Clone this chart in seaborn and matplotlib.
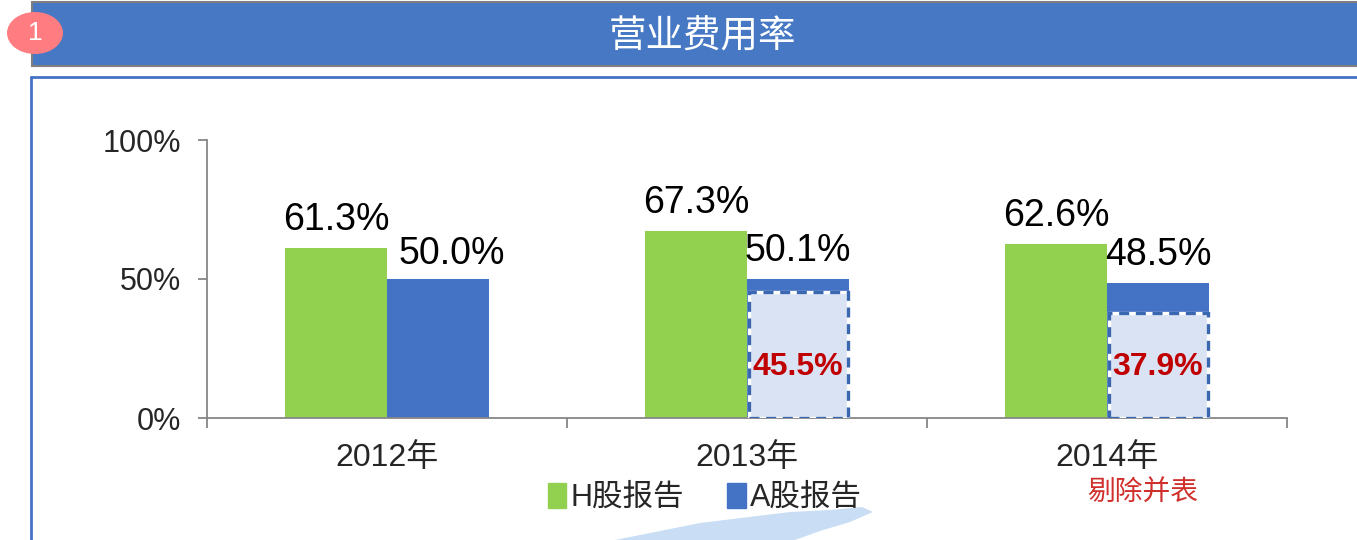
import matplotlib
matplotlib.use("Agg")
from matplotlib import pyplot as plt
from matplotlib.patches import Patch, Rectangle, Ellipse, Polygon
import seaborn as sns
import pandas as pd

# data
years = ["2012年", "2013年", "2014年"]
h_share = [61.3, 67.3, 62.6]      # H股报告
a_share = [50.0, 50.1, 48.5]      # A股报告
excl_years = ["2013年", "2014年"]
excl_vals = [45.5, 37.9]          # 剔除并表
series = ["H股报告", "A股报告"]

GREEN = "#92D050"
BLUE = "#4472C4"
GREY = "#868686"
RED = "#C00000"

df = pd.DataFrame({
    "年份": years * 2,
    "费用率": h_share + a_share,
    "口径": [series[0]] * 3 + [series[1]] * 3,
})

sns.set_theme(style="white")
plt.rcParams["font.family"] = ["Liberation Sans", "Noto Sans CJK SC", "DejaVu Sans"]

fig = plt.figure(figsize=(13.57, 5.4), dpi=100)
fig.patch.set_facecolor("white")

# header band + number badge
fig.add_artist(Rectangle((32 / 1357, 1 - 66 / 540), 1.0, 64 / 540, transform=fig.transFigure,
                         facecolor="#4678C4", edgecolor="#7F7F7F", lw=1.5, zorder=1))
fig.text(702 / 1357, 1 - 37 / 540, "营业费用率", color="white", fontsize=27,
         ha="center", va="center", zorder=3)
fig.add_artist(Ellipse((35 / 100, (540 - 33) / 100), 0.56, 0.42, transform=fig.dpi_scale_trans,
                       facecolor="#FF7C80", edgecolor="none", zorder=2))
fig.text(35 / 1357, 1 - 33 / 540, "1", color="white", fontsize=19, ha="center", va="center", zorder=3)

# content frame
fig.add_artist(plt.Line2D([31 / 1357, 31 / 1357], [0, 1 - 77 / 540], transform=fig.transFigure,
                          color=BLUE, lw=2))
fig.add_artist(plt.Line2D([31 / 1357, 1], [1 - 77 / 540, 1 - 77 / 540], transform=fig.transFigure,
                          color=BLUE, lw=2))
# faint decoration at the bottom
deco = [(615, 540), (700, 523), (790, 512), (830, 510), (862, 507), (873, 512),
        (850, 522), (820, 531), (795, 540)]
fig.add_artist(Polygon([(x / 1357, 1 - y / 540) for x, y in deco], closed=True,
                       transform=fig.transFigure, facecolor="#C9DEF4", edgecolor="none", zorder=0))

ax = fig.add_axes([207 / 1357, 122 / 540, 1080 / 1357, 278 / 540])
ax.set_facecolor("none")

sns.barplot(data=df, x="年份", y="费用率", hue="口径", order=years, hue_order=series,
            palette=[GREEN, BLUE], width=0.567, saturation=1, errorbar=None,
            linewidth=0, legend=False, ax=ax)

labels = []
for cont, vals in zip(ax.containers, [h_share, a_share]):
    labels.append(ax.bar_label(cont, labels=[f"{v:.1f}%" for v in vals], padding=7,
                               fontsize=27, color="black"))
# the 2012 A-share label sits a little to the right in the original
first_a = labels[1][0]
first_a.xyann = (first_a.xyann[0] + 10, first_a.xyann[1] - 2)

# dashed boxes for the figures without consolidation
blue_bars = list(ax.containers[1])
for yr, val in zip(excl_years, excl_vals):
    b = blue_bars[years.index(yr)]
    x0, w = b.get_x(), b.get_width()
    ax.bar(x0 + w / 2, val, width=w * 0.97, color="#DAE3F3", edgecolor="white", lw=2.4, zorder=3)
    ax.bar(x0 + w / 2, val, width=w * 0.97, color="none", edgecolor="#3A68B0", lw=2.4,
           linestyle=(0, (3, 2)), zorder=4)
    ax.text(x0 + w / 2, 18.5, f"{val:.1f}%", color=RED, fontsize=23, fontweight="bold",
            ha="center", va="center", zorder=5)

ax.set_ylim(0, 100)
ax.set_xlim(-0.5, 2.5)
ax.set_yticks([0, 50, 100])
ax.set_yticklabels(["0%", "50%", "100%"])
ax.set_xticks([0, 1, 2])
ax.set_xticklabels(years)
ax.set_xticks([-0.5, 0.5, 1.5, 2.5], minor=True)
ax.tick_params(axis="y", left=True, length=6.5, width=1.3, color=GREY, labelsize=22, pad=12)
ax.tick_params(axis="x", which="major", length=0, labelsize=23, pad=18)
ax.tick_params(axis="x", which="minor", bottom=True, length=7, width=1.3, color=GREY)
ax.set_xlabel("")
ax.set_ylabel("")
for s in ["top", "right"]:
    ax.spines[s].set_visible(False)
for s in ["left", "bottom"]:
    ax.spines[s].set_color(GREY)
    ax.spines[s].set_linewidth(1.3)

handles = [Patch(color=GREEN), Patch(color=BLUE)]
fig.legend(handles, series, loc="center", bbox_to_anchor=(705 / 1357, 1 - 498 / 540), ncol=2,
           frameon=False, fontsize=22, handlelength=0.6, handleheight=0.9,
           handletextpad=0.15, columnspacing=1.4)
fig.text(1143 / 1357, 1 - 494 / 540, "剔除并表", color="#D0302C", fontsize=20,
         ha="center", va="center")

fig.savefig("out.png", dpi=100)
